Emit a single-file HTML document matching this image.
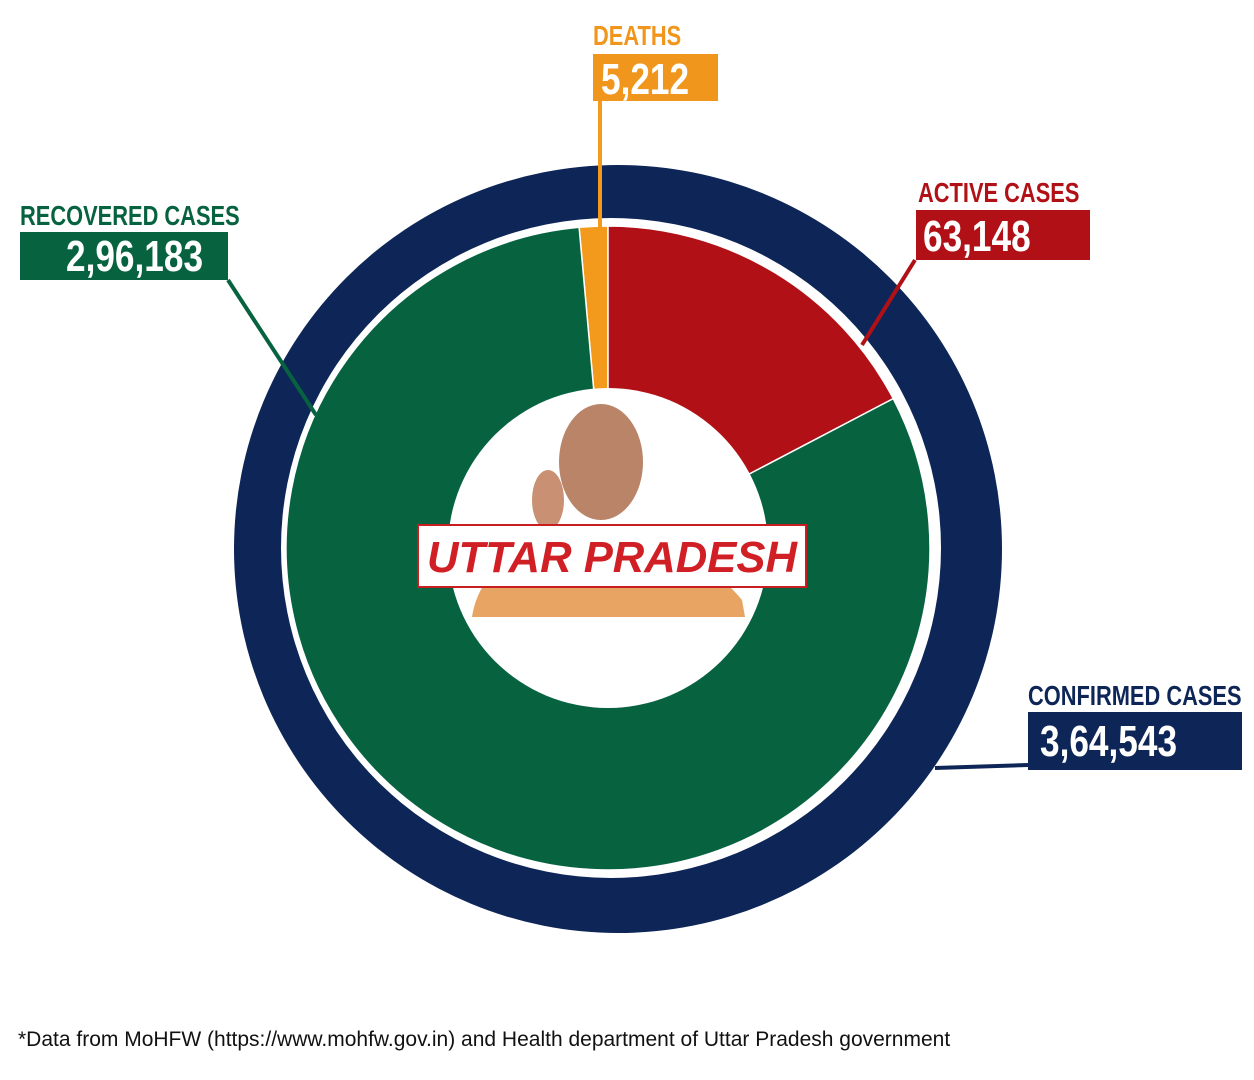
<!DOCTYPE html>
<html><head><meta charset="utf-8"><style>
body{margin:0;width:1254px;height:1080px;background:#fff;overflow:hidden;position:relative;font-family:"Liberation Sans",sans-serif}
.lbl{position:absolute;font-family:"Liberation Sans",sans-serif;font-weight:bold;font-size:28px;line-height:1;white-space:nowrap;transform:scaleX(0.78);transform-origin:0 0}
.box{position:absolute;box-sizing:border-box}
.box span{position:absolute;color:#fff;font-family:"Liberation Sans",sans-serif;font-weight:bold;font-size:44px;line-height:1;white-space:nowrap;transform:scaleX(0.8);transform-origin:0 0}
</style></head><body>
<svg id="chart" width="1254" height="1080" style="position:absolute;left:0;top:0"></svg>
<div class="lbl" style="left:593px;top:22px;color:#f0961c">DEATHS</div>
<div class="box" style="left:593px;top:54px;width:125px;height:47px;background:#f0961c"><span style="left:8px;top:4px">5,212</span></div>
<div class="lbl" style="left:918px;top:179px;color:#b11116">ACTIVE CASES</div>
<div class="box" style="left:916px;top:210px;width:174px;height:50px;background:#b11116"><span style="left:7px;top:5px">63,148</span></div>
<div class="lbl" style="left:20px;top:202px;color:#076240">RECOVERED CASES</div>
<div class="box" style="left:20px;top:232px;width:208px;height:48px;background:#076240"><span style="left:46px;top:3px">2,96,183</span></div>
<div class="lbl" style="left:1028px;top:682px;color:#0e2657">CONFIRMED CASES</div>
<div class="box" style="left:1028px;top:712px;width:214px;height:58px;background:#0e2657"><span style="left:12px;top:8px">3,64,543</span></div>
<div style="position:absolute;left:18px;top:1028px;font-size:21px;color:#111;white-space:nowrap">*Data from MoHFW (https://www.mohfw.gov.in) and Health department of Uttar Pradesh government</div>
<script>
const categories=["Deaths","Active Cases","Recovered Cases"];
const values=[5212,63148,296183];
const colors=["#f39a1d","#b11116","#076240"];
const confirmed=364543;
const NS="http://www.w3.org/2000/svg";
const svg=document.getElementById('chart');
const ocx=618,ocy=549;
const cx=608,cy=548;
function mk(t,a){const e=document.createElementNS(NS,t);for(const k in a)e.setAttribute(k,a[k]);svg.appendChild(e);return e;}
const outer=mk('circle',{cx:ocx,cy:ocy,r:384,fill:'#0e2657'});


const wr=mk('circle',{cx:cx+3,cy:cy,r:330,fill:'#fff'});


function pt(a,r){return [cx+r*Math.sin(a),cy-r*Math.cos(a)];}
const R=322;
const total=values.reduce((a,b)=>a+b,0);
let start=-values[0]/total*2*Math.PI;
values.forEach((v,i)=>{
  const ang=v/total*2*Math.PI,end=start+ang;
  const p1=pt(start,R),p2=pt(end,R);
  const p=mk('path',{d:`M${cx},${cy}L${p1[0]},${p1[1]}A${R},${R} 0 ${ang>Math.PI?1:0} 1 ${p2[0]},${p2[1]}Z`,fill:colors[i],stroke:'#fff','stroke-width':1.5});
  
  
  start=end;
});
const hole=mk('circle',{cx:cx,cy:cy,r:160,fill:'#fff'});


const body=mk('path',{d:'M472,617 Q480,565 540,545 L610,540 Q700,548 742,600 L745,617 Z',fill:'#e8a463'});


const head=mk('ellipse',{cx:601,cy:462,rx:42,ry:58,fill:'#b98468'});


const hand=mk('ellipse',{cx:548,cy:500,rx:16,ry:30,fill:'#c99073'});


const lines=[[600,100,600,232,'#f39a1d','deaths-leader'],[915,260,862,345,'#b11116','active-leader'],[228,280,316,415,'#076240','recovered-leader'],[1028,765,935,768,'#0e2657','confirmed-leader']];
lines.forEach(l=>{const e=mk('line',{x1:l[0],y1:l[1],x2:l[2],y2:l[3],stroke:l[4],'stroke-width':4});

});
const bx=mk('rect',{x:418,y:525,width:388,height:62,fill:'#fff',stroke:'#c81e22','stroke-width':2});


const t=mk('text',{x:427,y:572,'font-family':'Liberation Sans, sans-serif','font-weight':'bold','font-style':'italic','font-size':44,fill:'#d11f26',textLength:370,lengthAdjust:'spacingAndGlyphs'});
t.textContent='UTTAR PRADESH';


</script>
</body></html>
